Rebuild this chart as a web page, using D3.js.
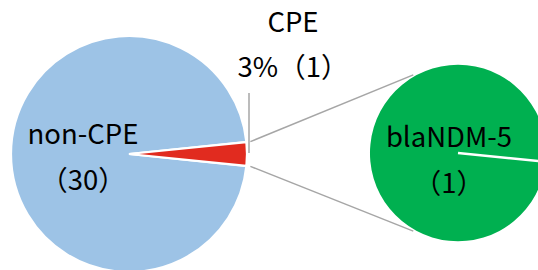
<!DOCTYPE html>
<html>
<head>
<meta charset="utf-8">
<script src="https://cdn.jsdelivr.net/npm/d3@7"></script>
<style>
html,body{margin:0;padding:0;background:#fff;}
svg{display:block;}
text{font-family:"Noto Sans CJK SC","Noto Sans",sans-serif;fill:#000;}
</style>
</head>
<body>
<script>
// Data
const mainCategories = ["non-CPE", "CPE"];
const mainValues = [30, 1];
const mainCounts = ["（30）", "3%（1）"];
const subCategories = ["blaNDM-5"];
const subValues = [1];
const subCounts = ["（1）"];
const colors = {"non-CPE": "#9DC3E6", "CPE": "#E12B1F", "blaNDM-5": "#00B050"};

const W = 538, H = 270;
const svg = d3.select("body").append("svg").attr("width", W).attr("height", H);

// Main pie
const c1 = [129, 154], r1 = 118;
const half = Math.PI * mainValues[1] / d3.sum(mainValues);
const start1 = Math.PI / 2 + half;
const pie1 = d3.pie().sort(null).startAngle(start1).endAngle(start1 + 2 * Math.PI);
const arcs1 = pie1(mainValues);
const arc1 = d3.arc().innerRadius(0).outerRadius(r1);
const g1 = svg.append("g").attr("transform", `translate(${c1})`);
g1.selectAll("path").data(arcs1).join("path")
  .attr("d", arc1)
  .attr("fill", (d, i) => colors[mainCategories[i]])
  .attr("stroke", "#fff").attr("stroke-width", 2.2).attr("stroke-linejoin", "miter");

// Sub pie
const c2 = [458, 153], r2 = 88;
const start2 = Math.PI / 2 + 0.1;
const pie2 = d3.pie().sort(null).startAngle(start2).endAngle(start2 + 2 * Math.PI);
const arcs2 = pie2(subValues);
const arc2 = d3.arc().innerRadius(0).outerRadius(r2);
const g2 = svg.append("g").attr("transform", `translate(${c2})`);
g2.selectAll("path").data(arcs2).join("path")
  .attr("d", arc2)
  .attr("fill", (d, i) => colors[subCategories[i]]);
g2.selectAll("line.sep").data(arcs2).join("line").attr("class", "sep")
  .attr("x1", 0).attr("y1", 0)
  .attr("x2", d => d3.pointRadial(d.startAngle, r2 + 2)[0])
  .attr("y2", d => d3.pointRadial(d.startAngle, r2 + 2)[1])
  .attr("stroke", "#fff").attr("stroke-width", 2.5);

// Connector lines
const cpe = arcs1[1];
const tA = 0.52;
const conn = [
  [d3.pointRadial(cpe.startAngle, r1 + 4), d3.pointRadial(-tA, r2 + 2)],
  [d3.pointRadial(cpe.endAngle, r1 + 4), d3.pointRadial(Math.PI + tA, r2 + 2)]
];
svg.selectAll("line.conn").data(conn).join("line").attr("class", "conn")
  .attr("x1", d => c1[0] + d[0][0]).attr("y1", d => c1[1] + d[0][1])
  .attr("x2", d => c2[0] + d[1][0]).attr("y2", d => c2[1] + d[1][1])
  .attr("stroke", "#A6A6A6").attr("stroke-width", 1.5);

// Leader line for CPE label
svg.append("line")
  .attr("x1", c1[0] + r1 + 2).attr("y1", c1[1] - 1)
  .attr("x2", c1[0] + r1 + 2).attr("y2", 93)
  .attr("stroke", "#A6A6A6").attr("stroke-width", 1.5);

// Labels
const fs = 27.5;
function label(x, y1, y2, t1, t2) {
  const t = svg.append("text").attr("text-anchor", "middle").attr("font-size", fs);
  t.append("tspan").attr("x", x).attr("y", y1).text(t1);
  t.append("tspan").attr("x", x).attr("y", y2).text(t2);
}
label(83, 144, 190, mainCategories[0], mainCounts[0]);
label(293, 32, 77, mainCategories[1], mainCounts[1]);
label(449, 147, 193, subCategories[0], subCounts[0]);
</script>
</body>
</html>
